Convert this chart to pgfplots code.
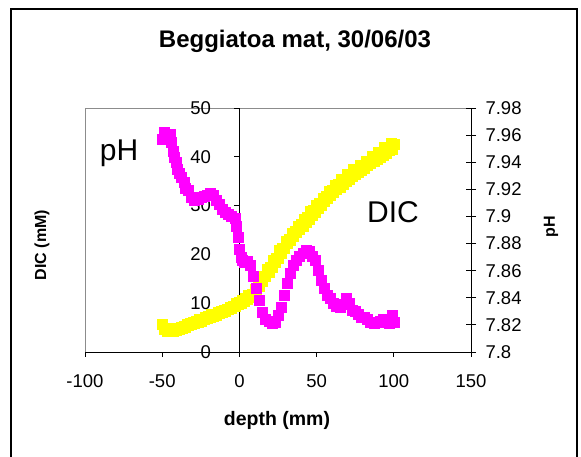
\documentclass[border=0pt]{standalone}
\usepackage{pgfplots}
\pgfplotsset{compat=1.18}
\usepackage{fontspec}
\setmainfont{Liberation Sans}
\definecolor{exmag}{RGB}{255,0,255}
\definecolor{exyel}{RGB}{255,255,0}
\pgfplotstableread{
x dic
-50 5.6
-49 4.6
-48 4.9
-47 4.3
-46 4.6
-45 4.2
-44 4.4
-43 4.3
-42 4.8
-41 4.5
-40 4.9
-39 4.7
-38 5.1
-37 4.9
-36 5.2
-35 5.1
-34 5.6
-33 5.4
-32 5.8
-31 5.6
-30 6.1
-29 5.9
-28 6.3
-27 6.2
-26 6.7
-25 6.4
-24 6.8
-23 6.7
-22 7.2
-21 6.9
-20 7.3
-19 7.2
-18 7.7
-17 7.4
-16 7.8
-15 7.6
-14 8.1
-13 7.9
-12 8.3
-11 8.1
-10 8.6
-9 8.4
-8 8.8
-7 8.7
-6 9.2
-5 9.0
-4 9.4
-3 9.3
-2 9.9
-1 9.7
0 10.2
1 10.1
2 10.7
3 10.5
4 11.0
5 10.9
6 11.6
7 11.3
8 11.9
9 11.8
10 12.8
11 12.5
12 13.5
13 13.5
14 14.8
15 14.5
16 15.5
17 15.5
18 16.9
19 16.4
20 17.4
21 17.4
22 18.8
23 18.3
24 19.3
25 19.3
26 20.8
27 20.3
28 21.3
29 21.3
30 22.8
31 22.2
32 23.1
33 22.9
34 24.4
35 23.7
36 24.7
37 24.5
38 25.8
39 25.2
40 26.1
41 25.8
42 27.3
43 26.6
44 27.7
45 27.3
46 28.8
47 28.1
48 29.1
49 28.6
50 30.1
51 29.4
52 30.5
53 30.1
54 31.6
55 30.8
56 31.9
57 31.5
58 33.0
59 32.2
60 33.2
61 32.7
62 34.2
63 33.3
64 34.4
65 33.8
66 35.4
67 34.4
68 35.5
69 35.0
70 36.4
71 35.4
72 36.5
73 36.0
74 37.4
75 36.4
76 37.4
77 36.8
78 38.3
79 37.3
80 38.3
81 37.7
82 39.2
83 38.2
84 39.2
85 38.6
86 40.1
87 39.1
88 40.1
89 39.5
90 41.0
91 40.0
92 41.0
93 40.4
94 41.9
95 40.8
96 41.8
97 41.3
98 42.8
99 41.6
100 42.6
}\dictable
\pgfplotstableread{
x ph
-50 7.957
-49 7.962
-47 7.960
-45 7.961
-44 7.955
-43 7.948
-42 7.944
-41 7.940
-40 7.935
-39 7.932
-38 7.929
-36 7.925
-35 7.921
-33 7.919
-31 7.914
-29 7.912
-27 7.913
-25 7.914
-23 7.915
-21 7.916
-19 7.917
-17 7.916
-15 7.912
-13 7.909
-11 7.905
-9 7.903
-7 7.902
-5 7.900
-3 7.899
-2 7.893
-1 7.885
0 7.876
1 7.870
2 7.868
3 7.866
5 7.867
7 7.864
9 7.856
11 7.847
13 7.838
15 7.829
17 7.824
19 7.823
21 7.821
23 7.822
25 7.827
27 7.833
29 7.842
31 7.851
33 7.858
35 7.864
37 7.868
39 7.871
41 7.873
43 7.875
45 7.874
47 7.871
49 7.868
51 7.860
53 7.853
55 7.847
57 7.842
59 7.840
61 7.836
63 7.834
65 7.833
67 7.835
69 7.840
71 7.836
73 7.831
75 7.830
77 7.828
79 7.826
81 7.826
83 7.824
85 7.822
87 7.821
89 7.822
91 7.823
93 7.824
95 7.822
97 7.821
99 7.827
100 7.822
}\phtable
\begin{document}
\begin{tikzpicture}[x=1pt,y=1pt]
\path[use as bounding box] (0,0) rectangle (581,457);
\draw[line width=1.5pt] (11,-10) -- (11,448) -- (577,448) -- (577,-10);
\draw[black!45, line width=0.8pt] (85,105) -- (85,349) -- (471,349);
% DIC scale (vertical axis crossing at depth 0)
\begin{axis}[at={(239.4pt,105pt)}, anchor=south west, scale only axis,
  width=231.6pt, height=244pt,
  xmin=0, xmax=150, ymin=0, ymax=50,
  axis x line=none, axis y line=left,
  axis line style={-, line width=0.8pt},
  ytick={0,10,20,30,40,50},
  ytick align=outside, major tick length=5pt,
  tick style={black, line width=0.8pt},
  tick label style={font=\fontsize{18.5}{20}\selectfont},
  yticklabel style={anchor=east, xshift=-20pt},
  /pgf/number format/assume math mode=true]
\end{axis}
\begin{axis}[at={(85pt,105pt)}, anchor=south west, scale only axis,
  width=386pt, height=244pt,
  xmin=-100, xmax=150, ymin=0, ymax=50,
  axis x line=bottom, axis y line=none,
  axis line style={-, line width=0.8pt},
  xtick={-100,-50,0,50,100,150},
  xtick align=outside,
  major tick length=5pt,
  tick style={black, line width=0.8pt},
  tick label style={font=\fontsize{18.5}{20}\selectfont},
  xticklabel style={yshift=-14pt},
  /pgf/number format/assume math mode=true,
  clip=false]
\addplot[only marks, mark=square*, mark size=5pt, mark options={draw=exyel, fill=exyel}] table[x=x, y=dic] {\dictable};
\end{axis}
\begin{axis}[at={(85pt,105pt)}, anchor=south west, scale only axis,
  width=386pt, height=244pt,
  xmin=-100, xmax=150, ymin=7.8, ymax=7.98,
  axis x line=none, axis y line=right,
  axis line style={-, line width=0.8pt},
  ytick={7.8,7.82,7.84,7.86,7.88,7.9,7.92,7.94,7.96,7.98},
  yticklabels={7.8,7.82,7.84,7.86,7.88,7.9,7.92,7.94,7.96,7.98},
  ytick align=center, major tick length=10pt,
  tick style={black, line width=0.8pt},
  tick label style={font=\fontsize{18.5}{20}\selectfont},
  yticklabel style={xshift=6pt},
  clip=false]
\addplot[only marks, mark=square*, mark size=5pt, mark options={draw=exmag, fill=exmag}] table[x=x, y=ph] {\phtable};
\end{axis}
\node[font=\bfseries\fontsize{24}{26}\selectfont] at (295,416) {Beggiatoa mat, 30/06/03};
\node[font=\bfseries\fontsize{19.5}{22}\selectfont] at (277,37) {depth (mm)};
\node[font=\bfseries\fontsize{16}{18}\selectfont, rotate=90] at (42,212) {DIC (mM)};
\node[font=\bfseries\fontsize{16}{18}\selectfont, rotate=90] at (551,230) {pH};
\node[font=\fontsize{30}{32}\selectfont] at (119,304) {pH};
\node[font=\fontsize{30}{32}\selectfont] at (393,245) {DIC};
\end{tikzpicture}
\end{document}
